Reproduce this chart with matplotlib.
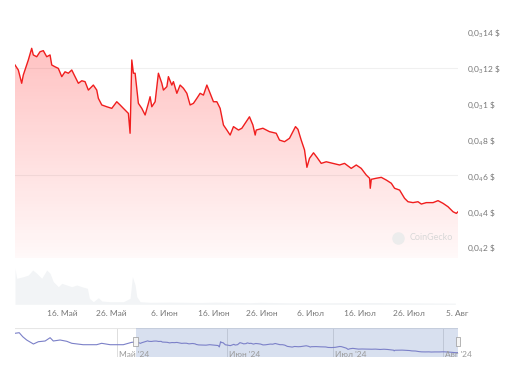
import numpy as np
import pandas as pd
import matplotlib
matplotlib.use("Agg")
import matplotlib.pyplot as plt
import matplotlib.dates as mdates
from matplotlib.patches import Rectangle

plt.rcParams["font.family"] = ["Lato", "DejaVu Sans"]
plt.rcParams["mathtext.fontset"] = "custom"
plt.rcParams["mathtext.rm"] = "Lato"
plt.rcParams["mathtext.default"] = "rm"

# price, day of May (May 1 = 1), value in 1e-6 $
may_day = [6.36, 7.04, 7.73, 8.06, 9.09, 9.78, 10.11, 10.81, 11.49, 12.16,
           12.86, 13.54, 13.89, 14.56, 15.24, 15.94, 16.61, 17.29, 17.99, 18.66,
           19.34, 20.04, 20.71, 21.39, 22.41, 23.11, 23.44, 24.14, 25.16, 26.19,
           27.21, 27.89, 28.57, 29.59, 29.94, 30.29, 30.62, 30.97, 31.64, 32.34,
           33.02, 33.69, 34.04, 34.39, 35.07, 35.74, 36.44, 36.77, 37.47, 37.79,
           38.49, 38.82, 39.52, 40.19, 40.87, 41.57, 42.24, 42.92, 43.62, 44.29,
           44.97, 45.67, 46.34, 47.02, 47.72, 48.39, 49.07, 49.77, 50.44, 51.12,
           52.15, 52.84, 53.52, 54.40, 55.10, 55.57, 55.78, 57.15, 58.50, 59.88,
           60.55, 61.58, 62.60, 63.30, 63.83, 64.33, 65.00, 65.68, 66.17, 66.70,
           67.52, 68.22, 69.10, 70.13, 71.50, 72.86, 73.88, 75.25, 76.28, 77.30,
           78.33, 79.01, 79.15, 79.36, 80.38, 81.41, 82.43, 83.46, 84.13, 85.16,
           86.18, 86.88, 87.90, 88.93, 89.61, 90.63, 92.01, 93.03, 94.06, 95.08,
           96.11, 96.78, 97.13]
price_u = [121.6, 118.8, 111.4, 116.0, 124.4, 130.9, 127.2, 126.2, 129.0, 129.6,
           126.2, 127.2, 121.6, 120.6, 119.7, 115.1, 117.8, 117.0, 118.8, 115.1,
           111.4, 112.8, 112.3, 107.6, 110.4, 107.6, 103.0, 99.3, 98.3, 97.4,
           101.1, 99.3, 97.4, 94.6, 83.5, 124.4, 117.0, 117.0, 100.2, 97.4,
           93.7, 100.2, 103.9, 98.3, 101.1, 117.0, 111.4, 107.6, 109.5, 115.1,
           110.4, 112.3, 105.8, 110.4, 108.6, 105.8, 99.3, 100.2, 103.0, 105.8,
           104.8, 110.4, 105.8, 101.1, 101.1, 97.4, 88.1, 85.3, 82.5, 87.2,
           85.3, 86.3, 89.1, 92.7, 88.1, 82.5, 85.3, 86.3, 84.4, 83.5,
           79.7, 78.8, 80.7, 84.4, 87.2, 85.7, 79.7, 74.2, 64.5, 69.5,
           72.6, 70.1, 66.7, 67.6, 66.7, 65.8, 66.7, 63.9, 65.8, 63.9,
           60.2, 58.4, 52.8, 57.8, 58.4, 58.9, 57.4, 55.6, 52.8, 51.8,
           47.2, 45.3, 44.8, 45.3, 44.0, 44.8, 44.8, 45.9, 44.4, 42.5,
           39.7, 38.8, 39.7]

# navigator history before the selected range, day of April (Apr 1 = 1)
apr_day = [2.4, 3.6, 4.6, 5.7, 7.6, 9.0, 10.9, 12.3, 13.2, 15.1,
           17.0, 18.4, 21.6, 25.4, 26.8, 29.2, 32.9, 35.3]
apr_price_u = [189.7, 194.4, 163.0, 137.6, 106.4, 124.3, 129.8, 155.5, 129.8, 137.6,
               127.4, 111.9, 101.0, 101.0, 111.9, 101.0, 101.0, 119.7]

# volume (arbitrary units), day of May
vol_day = [6.36, 6.71, 8.06, 9.09, 9.99, 10.81, 11.83, 12.86, 13.54, 14.21,
           15.24, 15.94, 16.96, 17.99, 19.01, 20.04, 21.19, 21.60, 22.41, 23.44,
           24.14, 25.84, 28.57, 29.94, 30.41, 30.97, 31.31, 31.99, 34.04, 38.14,
           44.29, 47.37, 54.55, 56.60, 62.75, 70.95, 79.15, 87.35, 96.58]
volume = [36, 26, 27.6, 29.3, 34.3, 31, 26, 34.3, 31, 22.6,
          17.6, 21, 19.3, 17.6, 19.3, 17.6, 16, 6, 2.6, 6.6,
          3.3, 2.6, 2.6, 6, 27.6, 19.3, 7.6, 2.6, 2.0, 2.2,
          1.8, 2.2, 1.6, 2.0, 1.5, 1.6, 1.8, 1.5, 1.2]

y_ticks = [2e-5, 4e-5, 6e-5, 8e-5, 1e-4, 1.2e-4, 1.4e-4]
y_labels = [r"0,0$_4$2 \$", r"0,0$_4$4 \$", r"0,0$_4$6 \$", r"0,0$_4$8 \$",
            r"0,0$_3$1 \$", r"0,0$_3$12 \$", r"0,0$_3$14 \$"]
x_ticks = ["2024-05-16", "2024-05-26", "2024-06-06", "2024-06-16", "2024-06-26",
           "2024-07-06", "2024-07-16", "2024-07-26", "2024-08-05"]
x_labels = ["16. Май", "26. Май", "6. Июн", "16. Июн", "26. Июн",
            "6. Июл", "16. Июл", "26. Июл", "5. Авг"]
month_ticks = ["2024-05-01", "2024-06-01", "2024-07-01", "2024-08-01"]
month_labels = ["Май '24", "Июн '24", "Июл '24", "Авг '24"]

may0 = pd.Timestamp("2024-04-30")
apr0 = pd.Timestamp("2024-03-31")
dates = mdates.date2num(may0 + pd.to_timedelta(may_day, unit="D"))
price = np.array(price_u) * 1e-6
vdates = mdates.date2num(may0 + pd.to_timedelta(vol_day, unit="D"))
nav_dates = np.concatenate([mdates.date2num(apr0 + pd.to_timedelta(apr_day, unit="D")), dates])
nav_price = np.concatenate([np.array(apr_price_u) * 1e-6, price])

W, H = 512, 367
fig = plt.figure(figsize=(W / 100, H / 100), dpi=100)
fig.patch.set_facecolor("white")

def px_axes(x0, y0, x1, y1):
    return fig.add_axes([x0 / W, 1 - y1 / H, (x1 - x0) / W, (y1 - y0) / H])

xmin, xmax = dates[0], mdates.date2num(pd.Timestamp("2024-08-05 03:00"))
ymin, ymax = 1.39e-5, 1.467e-4

# --- main price chart ---
ax = px_axes(15, 20, 458, 258)
for g in [6e-5, 1.2e-4]:
    ax.axhline(g, color="#f0f0f0", lw=0.8, zorder=0)
ax.plot(dates, price, color="#f01e1e", lw=1.0, zorder=3)
fill = ax.fill_between(dates, price, ymin, color="none", lw=0)
grad = np.zeros((256, 1, 4))
grad[:, 0, 0] = 1.0
grad[:, 0, 1] = 0.15
grad[:, 0, 2] = 0.15
grad[:, 0, 3] = np.linspace(0.03, 0.28, 256)
img = ax.imshow(grad, extent=[xmin, xmax, ymin, price.max()], aspect="auto",
                origin="lower", zorder=2)
img.set_clip_path(fill.get_paths()[0], transform=ax.transData)
ax.set_xlim(xmin, xmax)
ax.set_ylim(ymin, ymax)
ax.yaxis.tick_right()
ax.set_yticks(y_ticks)
ax.set_yticklabels(y_labels)
ax.tick_params(axis="y", length=0, pad=6.5, labelsize=6, labelcolor="#777777")
ax.set_xticks([])
for s in ax.spines.values():
    s.set_visible(False)
ax.plot([0.865], [0.085], "o", ms=8, color="#ececec", transform=ax.transAxes, zorder=4)
ax.text(0.89, 0.085, "CoinGecko", transform=ax.transAxes, fontsize=6.5,
        color="#d8d8d8", va="center", ha="left", zorder=4)

# --- volume ---
axv = px_axes(15, 264, 458, 304.3)
axv.fill_between(vdates, volume, 0, color="#f2f4f6", lw=0)
axv.set_xlim(xmin, xmax)
axv.set_ylim(0, 40.3)
axv.set_yticks([])
axv.set_xticks(mdates.date2num(pd.to_datetime(x_ticks)))
axv.set_xticklabels(x_labels)
axv.tick_params(axis="x", length=0, pad=4, labelsize=6, labelcolor="#777777")
for s in axv.spines.values():
    s.set_visible(False)

# --- navigator ---
axn = px_axes(15, 328, 458, 357)
nx0 = mdates.date2num(pd.Timestamp("2024-04-02 10:00"))
nx1 = mdates.date2num(pd.Timestamp("2024-08-05 03:00"))
axn.axhline(2.31e-4, color="#e6e6e6", lw=0.8)
for m in mdates.date2num(pd.to_datetime(month_ticks)):
    axn.axvline(m, color="#dddddd", lw=0.7, zorder=1)
for m, lab in zip(mdates.date2num(pd.to_datetime(month_ticks)), month_labels):
    axn.text(m + 0.6, 2.8e-5, lab, fontsize=6, color="#9a9a9a", va="center", ha="left", zorder=4)
axn.axvspan(dates[0], nx1, color=(102 / 255, 133 / 255, 194 / 255), alpha=0.25, lw=0, zorder=2)
axn.plot(nav_dates, nav_price, color="#7b80c8", lw=0.8, zorder=3)
for hx in [dates[0], nx1]:
    axn.add_patch(Rectangle((hx - 0.6, 0.38), 1.2, 0.32, transform=axn.get_xaxis_transform(),
                            facecolor="#f5f5f5", edgecolor="#999999", lw=0.5, zorder=5,
                            clip_on=False))
axn.set_xlim(nx0, nx1)
axn.set_ylim(5.3e-6, 2.31e-4)
axn.set_xticks([])
axn.set_yticks([])
for s in axn.spines.values():
    s.set_visible(False)

fig.savefig("out.png", dpi=100)
